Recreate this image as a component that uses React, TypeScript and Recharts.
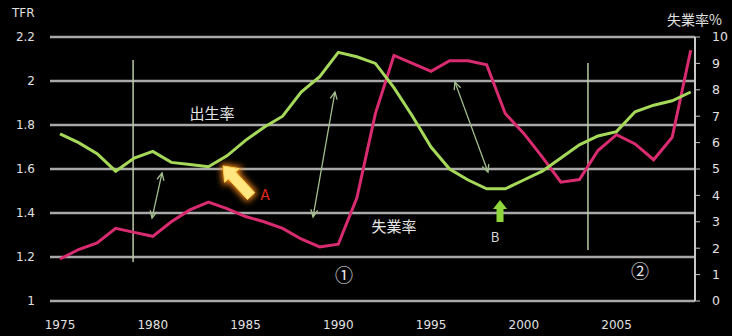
import React from "react";
import {
  ComposedChart,
  Line,
  XAxis,
  YAxis,
  CartesianGrid,
  ReferenceLine,
  ReferenceDot,
} from "recharts";

// Yearly values: total fertility rate (left axis) and unemployment rate % (right axis)
const years = [
  1975, 1976, 1977, 1978, 1979, 1980, 1981, 1982, 1983, 1984, 1985, 1986,
  1987, 1988, 1989, 1990, 1991, 1992, 1993, 1994, 1995, 1996, 1997, 1998,
  1999, 2000, 2001, 2002, 2003, 2004, 2005, 2006, 2007, 2008, 2009,
];
const tfr = [
  1.76, 1.72, 1.67, 1.59, 1.65, 1.68, 1.63, 1.62, 1.61, 1.66, 1.73, 1.79,
  1.84, 1.95, 2.02, 2.13, 2.11, 2.08, 1.97, 1.84, 1.7, 1.6, 1.55, 1.51,
  1.51, 1.55, 1.59, 1.65, 1.71, 1.75, 1.77, 1.86, 1.89, 1.91, 1.95,
];
const unemployment = [
  1.59, 1.95, 2.2, 2.75, 2.6, 2.45, 3.0, 3.45, 3.75, 3.5, 3.2, 3.0,
  2.75, 2.35, 2.05, 2.15, 3.9, 7.1, 9.3, 9.0, 8.7, 9.1, 9.1, 8.95,
  7.1, 6.35, 5.45, 4.5, 4.6, 5.7, 6.3, 5.95, 5.35, 6.2, 9.5,
];

const yearTicks = [1975, 1980, 1985, 1990, 1995, 2000, 2005];
const tfrTicks = [1, 1.2, 1.4, 1.6, 1.8, 2, 2.2];
const rateTicks = [0, 1, 2, 3, 4, 5, 6, 7, 8, 9, 10];

const data = years.map((year, i) => ({
  year,
  tfr: tfr[i],
  unemployment: unemployment[i],
}));

// Annotation anchors in (year, TFR) space
const dividers = [
  { x: 1978.94, y1: 1.177, y2: 2.095 },
  { x: 2003.46, y1: 1.232, y2: 2.082 },
];
const doubleArrows = [
  { x1: 1980.5, y1: 1.582, x2: 1979.96, y2: 1.377 },
  { x1: 1989.82, y1: 1.95, x2: 1988.64, y2: 1.382 },
  { x1: 1996.29, y1: 1.995, x2: 1998.07, y2: 1.586 },
];
const textLabels = [
  { x: 1983.19, y: 1.859, text: "出生率", color: "#e6e6e6", size: 15 },
  { x: 1993.0, y: 1.345, text: "失業率", color: "#e6e6e6", size: 15 },
  { x: 1986.05, y: 1.49, text: "A", color: "#e8281e", size: 15 },
  { x: 1998.45, y: 1.291, text: "B", color: "#d8d8d8", size: 13 },
  { x: 1990.31, y: 1.123, text: "①", color: "#e6e6e6", size: 18 },
  { x: 2006.27, y: 1.141, text: "②", color: "#e6e6e6", size: 18 },
];
const arrowA = { x1: 1985.3, y1: 1.477, x2: 1983.79, y2: 1.614 };
const arrowB = { x1: 1998.72, y1: 1.359, x2: 1998.72, y2: 1.459 };

const GREEN = "#a6d95a";
const PINK = "#d92b70";
const GRID = "#a9a9a9";
const AXIS_TEXT = "#e0e0e0";
const TICK_FONT = "'DejaVu Sans', sans-serif";
const CJK_FONT = "'Noto Sans CJK JP', sans-serif";

function head(x: number, y: number, ang: number, len: number, spread: number) {
  const a1 = ang + spread;
  const a2 = ang - spread;
  return `M${x - len * Math.cos(a1)},${y - len * Math.sin(a1)} L${x},${y} L${
    x - len * Math.cos(a2)
  },${y - len * Math.sin(a2)}`;
}

const DoubleArrowShape = (p: any) => {
  const { x1, y1, x2, y2 } = p;
  if ([x1, y1, x2, y2].some((v) => typeof v !== "number")) return <g />;
  const ang = Math.atan2(y2 - y1, x2 - x1);
  const stroke = "#a4c08e";
  return (
    <g>
      <line x1={x1} y1={y1} x2={x2} y2={y2} stroke={stroke} strokeWidth={1.3} />
      <path d={head(x2, y2, ang, 8, 0.45)} stroke={stroke} strokeWidth={1.3} fill="none" />
      <path d={head(x1, y1, ang + Math.PI, 8, 0.45)} stroke={stroke} strokeWidth={1.3} fill="none" />
    </g>
  );
};

function blockArrow(x1: number, y1: number, x2: number, y2: number, shaft: number, headW: number, headL: number) {
  const ang = Math.atan2(y2 - y1, x2 - x1);
  const ux = Math.cos(ang);
  const uy = Math.sin(ang);
  const nx = -uy;
  const ny = ux;
  const len = Math.hypot(x2 - x1, y2 - y1);
  const bx = x1 + ux * (len - headL);
  const by = y1 + uy * (len - headL);
  const pts = [
    [x1 + nx * shaft, y1 + ny * shaft],
    [bx + nx * shaft, by + ny * shaft],
    [bx + nx * headW, by + ny * headW],
    [x2, y2],
    [bx - nx * headW, by - ny * headW],
    [bx - nx * shaft, by - ny * shaft],
    [x1 - nx * shaft, y1 - ny * shaft],
  ];
  return pts.map((q) => q.join(",")).join(" ");
}

const ArrowAShape = (p: any) => {
  const { x1, y1, x2, y2 } = p;
  if ([x1, y1, x2, y2].some((v) => typeof v !== "number")) return <g />;
  const pts = blockArrow(x1, y1, x2, y2, 5, 10, 13);
  return (
    <g>
      <defs>
        <filter id="glowA" x="-50%" y="-50%" width="200%" height="200%">
          <feGaussianBlur stdDeviation="3" />
        </filter>
      </defs>
      <polygon points={pts} fill="#ff8c1a" stroke="#ff8c1a" strokeWidth={4} filter="url(#glowA)" />
      <polygon points={pts} fill="#ffe680" stroke="#ffd24a" strokeWidth={1} />
    </g>
  );
};

const ArrowBShape = (p: any) => {
  const { x1, y1, x2, y2 } = p;
  if ([x1, y1, x2, y2].some((v) => typeof v !== "number")) return <g />;
  const pts = blockArrow(x1, y1, x2, y2, 3.5, 7, 9);
  return <polygon points={pts} fill="#8ed63c" />;
};

const DividerShape = (p: any) => {
  const { x1, y1, x2, y2 } = p;
  if ([x1, y1, x2, y2].some((v) => typeof v !== "number")) return <g />;
  return <line x1={x1} y1={y1} x2={x2} y2={y2} stroke="#b9c9a4" strokeWidth={1.5} />;
};

const makeTextShape = (text: string, color: string, size: number) => (p: any) => {
  if (typeof p.cx !== "number" || typeof p.cy !== "number") return <g />;
  return (
    <text
      x={p.cx}
      y={p.cy}
      fill={color}
      fontSize={size}
      fontFamily={CJK_FONT}
      textAnchor="middle"
      dominantBaseline="central"
    >
      {text}
    </text>
  );
};

const fmtTfr = (v: number) => String(Math.round(v * 10) / 10);

export default function App() {
  return (
    <div
      style={{
        position: "absolute",
        left: 0,
        top: 0,
        width: 732,
        height: 336,
        background: "#000",
        overflow: "hidden",
      }}
    >
      <div
        style={{
          position: "absolute",
          left: 12,
          top: 6,
          color: AXIS_TEXT,
          fontFamily: TICK_FONT,
          fontSize: 12,
        }}
      >
        TFR
      </div>
      <div
        style={{
          position: "absolute",
          left: 667,
          top: 9,
          color: AXIS_TEXT,
          fontFamily: CJK_FONT,
          fontSize: 14,
          lineHeight: "20px",
          whiteSpace: "nowrap",
        }}
      >
        失業率%
      </div>
      <ComposedChart
        width={732}
        height={336}
        data={data}
        margin={{ top: 37, right: 0, left: 0, bottom: 0 }}
      >
        <CartesianGrid
          horizontal
          vertical={false}
          stroke={GRID}
          strokeWidth={2.5}
          yAxisId="left"
        />
        <XAxis
          dataKey="year"
          type="number"
          domain={[1974.46, 2009.23]}
          ticks={yearTicks}
          allowDataOverflow
          axisLine={false}
          tickLine={false}
          tickSize={0}
          tickMargin={19}
          height={35}
          tick={{ fill: AXIS_TEXT, fontSize: 12, fontFamily: TICK_FONT }}
        />
        <YAxis
          yAxisId="left"
          orientation="left"
          domain={[1, 2.2]}
          ticks={tfrTicks}
          width={50}
          axisLine={false}
          tickLine={false}
          tickSize={0}
          tickMargin={15}
          tickFormatter={fmtTfr}
          tick={{ fill: AXIS_TEXT, fontSize: 12, fontFamily: TICK_FONT }}
        />
        <YAxis
          yAxisId="right"
          orientation="right"
          domain={[0, 10]}
          ticks={rateTicks}
          width={37}
          axisLine={{ stroke: "#c8c8c8", strokeWidth: 2 }}
          tickLine={{ stroke: "#c8c8c8" }}
          tickSize={5}
          tickMargin={12}
          tick={{ fill: AXIS_TEXT, fontSize: 12.5, fontFamily: TICK_FONT }}
        />

        {dividers.map((d, i) => (
          <ReferenceLine
            key={`div-${i}`}
            yAxisId="left"
            segment={[
              { x: d.x, y: d.y1 },
              { x: d.x, y: d.y2 },
            ]}
            shape={DividerShape}
          />
        ))}
        {doubleArrows.map((a, i) => (
          <ReferenceLine
            key={`dbl-${i}`}
            yAxisId="left"
            segment={[
              { x: a.x1, y: a.y1 },
              { x: a.x2, y: a.y2 },
            ]}
            shape={DoubleArrowShape}
          />
        ))}

        <Line
          yAxisId="right"
          type="linear"
          dataKey="unemployment"
          stroke={PINK}
          strokeWidth={3}
          dot={false}
          isAnimationActive={false}
        />
        <Line
          yAxisId="left"
          type="linear"
          dataKey="tfr"
          stroke={GREEN}
          strokeWidth={3}
          dot={false}
          isAnimationActive={false}
        />

        <ReferenceLine
          yAxisId="left"
          segment={[
            { x: arrowA.x1, y: arrowA.y1 },
            { x: arrowA.x2, y: arrowA.y2 },
          ]}
          shape={ArrowAShape}
        />
        <ReferenceLine
          yAxisId="left"
          segment={[
            { x: arrowB.x1, y: arrowB.y1 },
            { x: arrowB.x2, y: arrowB.y2 },
          ]}
          shape={ArrowBShape}
        />
        {textLabels.map((t, i) => (
          <ReferenceDot
            key={`lbl-${i}`}
            yAxisId="left"
            x={t.x}
            y={t.y}
            r={1}
            shape={makeTextShape(t.text, t.color, t.size)}
          />
        ))}
      </ComposedChart>
    </div>
  );
}
